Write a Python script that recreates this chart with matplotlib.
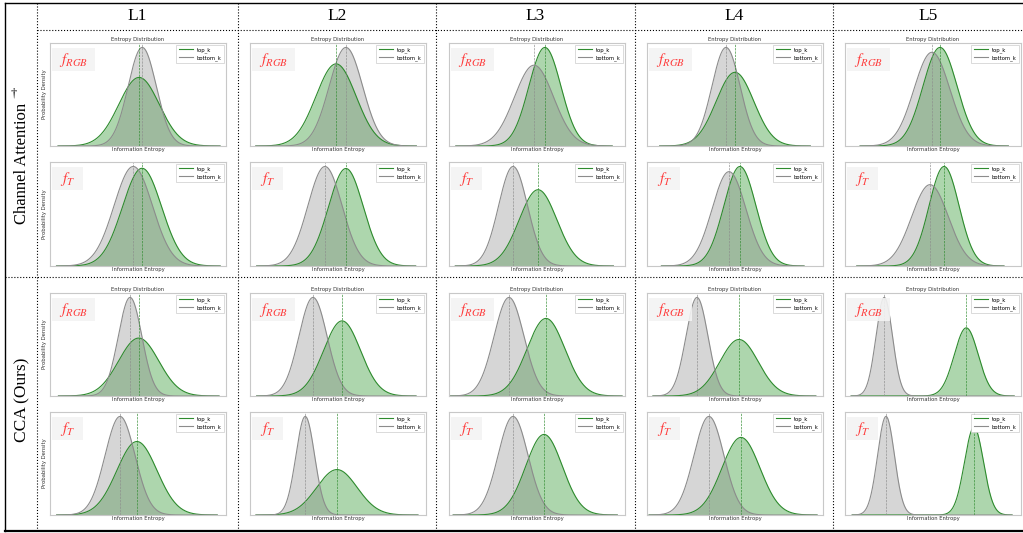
import numpy as np
import matplotlib
matplotlib.use('Agg')
import matplotlib.pyplot as plt
from matplotlib.patches import Rectangle
from matplotlib.lines import Line2D

# ---------------- data ----------------
levels = ['L1', 'L2', 'L3', 'L4', 'L5']
methods = ['Channel Attention', 'CCA (Ours)']
dagger = '\u2020'
features = ['$f_{RGB}$', '$f_{T}$']

# rows: [CA f_RGB, CA f_T, CCA f_RGB, CCA f_T]; cols: L1..L5
top_mean = [[5.06, 4.89, 5.45, 5.00, 5.40],
            [5.23, 5.45, 5.06, 5.28, 5.63],
            [5.04, 5.23, 5.51, 5.23, 6.89],
            [4.94, 4.94, 5.40, 5.34, 7.33]]
top_std = [[1.15, 1.14, 0.91, 1.07, 0.97],
           [1.11, 0.99, 1.07, 0.91, 0.85],
           [1.14, 1.05, 1.08, 1.09, 0.68],
           [1.14, 1.15, 1.04, 1.08, 0.54]]
bottom_mean = [[5.24, 5.45, 4.83, 4.49, 4.94],
               [4.73, 4.26, 3.64, 4.66, 4.83],
               [4.55, 3.58, 3.41, 2.84, 2.23],
               [3.98, 3.14, 3.64, 3.52, 2.33]]
bottom_std = [[0.80, 0.95, 1.11, 0.80, 1.02],
              [1.09, 0.97, 0.82, 0.96, 1.04],
              [0.67, 0.80, 0.85, 0.625, 0.47],
              [0.85, 0.53, 0.85, 0.85, 0.48]]

# ---------------- layout ----------------
W, H = 1023, 533
fig = plt.figure(figsize=(W / 100, H / 100), dpi=100)
plt.rcParams['mathtext.fontset'] = 'stix'


def fx(px):
    return px / W


def fy(py):
    return 1 - py / H


def fline(x0, y0, x1, y1, ls='-', lw=0.8):
    fig.add_artist(Line2D([fx(x0), fx(x1)], [fy(y0), fy(y1)], transform=fig.transFigure,
                          color='black', linestyle=ls, linewidth=lw))


# outer frame
fline(5, 3, W, 3, lw=1.0)
fline(5, 3, 5, 531, lw=1.0)
fline(5, 531, W, 531, lw=1.6)
# dotted grid
col_bounds = [37, 238, 436, 635, 833, W]
for x in col_bounds[:-1]:
    fline(x, 3, x, 531, ls=':', lw=0.8)
fline(37, 30, W, 30, ls=':', lw=0.8)
fline(5, 277, W, 277, ls=':', lw=0.8)

serif = ['Liberation Serif', 'DejaVu Serif']
for i, lab in enumerate(levels):
    cx = (col_bounds[i] + col_bounds[i + 1]) / 2
    fig.text(fx(cx), fy(16), lab, ha='center', va='center', fontsize=12.5, family=serif)

fig.text(fx(22), fy(163), methods[0], ha='center', va='center', rotation=90,
         fontsize=12, family=serif)
fig.text(fx(14), fy(93), dagger, ha='center', va='center', fontsize=9, family=serif)
fig.text(fx(22), fy(400), methods[1], ha='center', va='center', rotation=90,
         fontsize=12.5, family=serif)

col_left = [50, 250, 449, 647, 845]
ax_w = 176
row_tb = [(43, 146), (162, 266), (293, 396), (412, 515)]

green = '#2e8b2e'
gray = '#8c8c8c'
fs_small = 3.8

for r in range(4):
    for c in range(5):
        top, bot = row_tb[r]
        ax = fig.add_axes([fx(col_left[c]), fy(bot), ax_w / W, (bot - top) / H])
        mt, st = top_mean[r][c], top_std[r][c]
        mb, sb = bottom_mean[r][c], bottom_std[r][c]
        lo = min(mt - 4 * st, mb - 4 * sb)
        hi = max(mt + 4 * st, mb + 4 * sb)
        xx = np.linspace(lo, hi, 500)
        yt = np.exp(-0.5 * ((xx - mt) / st) ** 2) / (st * np.sqrt(2 * np.pi))
        yb = np.exp(-0.5 * ((xx - mb) / sb) ** 2) / (sb * np.sqrt(2 * np.pi))
        ax.fill_between(xx, yt, color='green', alpha=0.32, lw=0)
        ax.plot(xx, yt, color=green, lw=0.8, label='top_k')
        ax.fill_between(xx, yb, color='gray', alpha=0.32, lw=0)
        ax.plot(xx, yb, color=gray, lw=0.8, label='bottom_k')
        ax.axvline(mt, color=green, ls='--', lw=0.45)
        ax.axvline(mb, color=gray, ls='--', lw=0.45)
        ax.set_xlim(0, 10)
        ax.set_ylim(0, max(yt.max(), yb.max()) * 1.045)
        ax.set_xticks([])
        ax.set_yticks([])
        for s in ax.spines.values():
            s.set_color('#c8c8c8')
            s.set_linewidth(0.8)
        ax.set_xlabel('Information Entropy', fontsize=fs_small, labelpad=1, color='#333333')
        if c == 0:
            ax.set_ylabel('Probability Density', fontsize=fs_small, labelpad=2, color='#333333')
        if r % 2 == 0:
            ax.set_title('Entropy Distribution', fontsize=fs_small, pad=1.5, color='#333333')
        leg = ax.legend(loc='upper right', fontsize=fs_small, handlelength=2.6,
                        borderaxespad=0.3, fancybox=False, framealpha=1,
                        borderpad=0.5, labelspacing=0.4)
        leg.get_frame().set_edgecolor('#cccccc')
        leg.get_frame().set_linewidth(0.5)
        # feature tag box
        is_rgb = (r % 2 == 0)
        bw = 43 / ax_w if is_rgb else 31 / ax_w
        hgt = bot - top
        bh = 23 / hgt
        ax.add_patch(Rectangle((0.012, 0.95 - bh), bw, bh, transform=ax.transAxes,
                               facecolor='#f3f3f3', edgecolor='none', alpha=0.9, zorder=4))
        ax.text(0.012 + bw / 2, 0.95 - bh / 2, features[r % 2], transform=ax.transAxes,
                ha='center', va='center', color='#ff3b3b', fontsize=11, zorder=5)

fig.savefig('out.png', dpi=100)
